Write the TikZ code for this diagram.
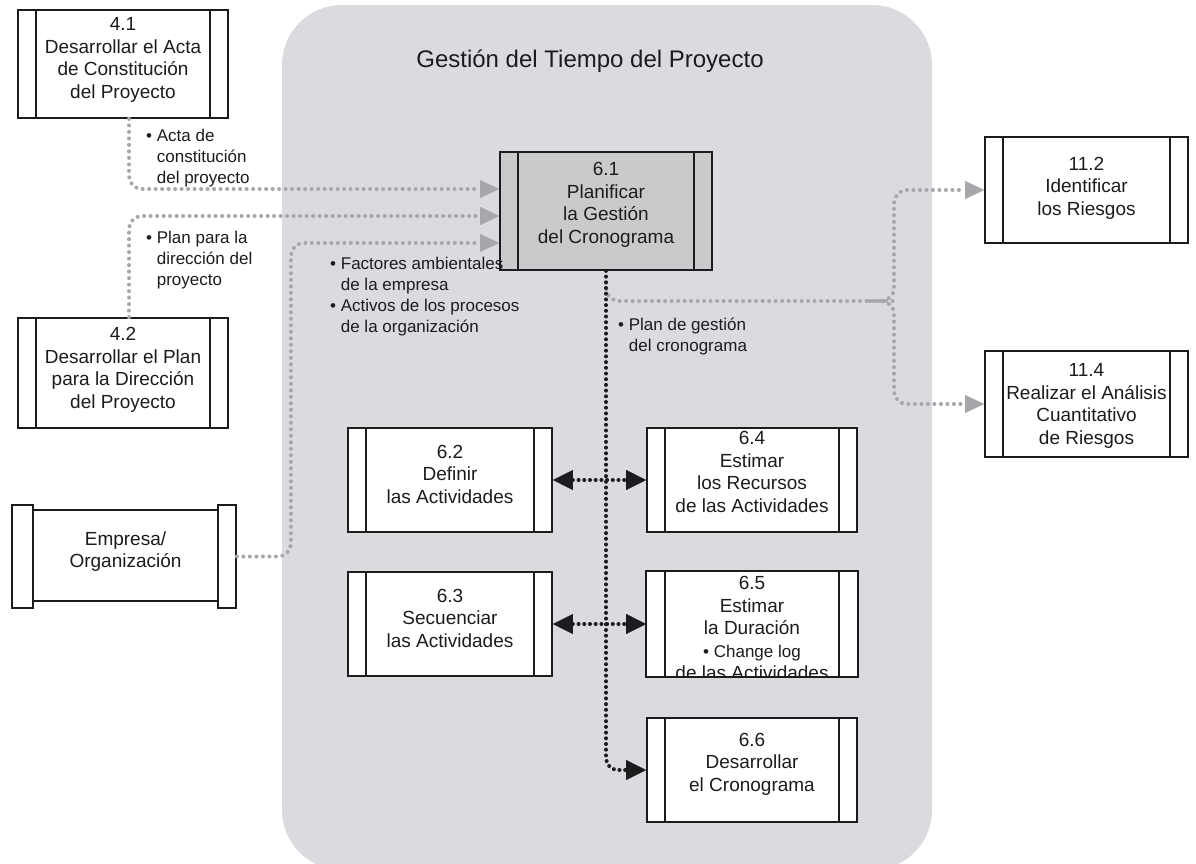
\documentclass[tikz,border=0pt]{standalone}
\usepackage{fontspec}
\setmainfont{Liberation Sans}
\usetikzlibrary{arrows.meta}

\definecolor{panel}{RGB}{218,219,222}
\definecolor{hotfill}{RGB}{201,202,204}
\definecolor{flow}{RGB}{166,167,170}
\definecolor{ink}{RGB}{28,28,30}

\newcommand\procfont{\fontsize{19}{22.5}\selectfont}
\newcommand\notefont{\fontsize{17}{21}\selectfont}
\newcommand\headfont{\fontsize{24}{28}\selectfont}
% the two vertical bars of a process box
\newcommand\sidebars[1]{%
  \draw[barline] ([xshift=19pt]#1.north west) -- ([xshift=19pt]#1.south west);
  \draw[barline] ([xshift=-19pt]#1.north east) -- ([xshift=-19pt]#1.south east);}

\tikzset{
  proc/.style={draw=ink, line width=1.8pt, fill=white, rectangle, inner sep=0pt},
  barline/.style={draw=ink, line width=1.6pt},
  ptext/.style={align=center, font=\procfont, text=ink, inner sep=0pt},
  note/.style={anchor=north west, align=left, font=\notefont, text=ink, inner sep=0pt},
  gflow/.style={draw=flow, line width=4pt, line cap=round, dash pattern=on 0pt off 6.5pt,
    rounded corners=13pt},
  kflow/.style={draw=ink, line width=4pt, line cap=round, dash pattern=on 0pt off 5.7pt,
    rounded corners=12pt},
  gtip/.style={-{Triangle[length=19pt,width=18pt,line width=0.1pt]}},
  ktip/.style={-{Triangle[length=20pt,width=20pt,line width=0.1pt]}},
  kboth/.style={{Triangle[length=20pt,width=20pt,line width=0.1pt]}-{Triangle[length=20pt,width=20pt,line width=0.1pt]}},
}

\begin{document}
\begin{tikzpicture}[x=1pt,y=-1pt]
\useasboundingbox (0,0) rectangle (1196,864);
\clip (0,0) rectangle (1196,864);
\fill[white] (0,0) rectangle (1196,864);

% knowledge-area panel
\fill[panel, rounded corners=60pt] (282,5) rectangle (932,870);
\node[font=\headfont, text=ink] (title) at (590,61) {Gestión del Tiempo del Proyecto};

% process boxes
\node[proc, minimum width=210pt, minimum height=108pt] (p41) at (123,64) {};
\node[proc, minimum width=210pt, minimum height=110pt] (p42) at (123,373) {};
\node[proc, minimum width=185pt, minimum height=91pt] (emp) at (125.5,555.5) {};
\node[proc, minimum width=21pt, minimum height=103pt] (empL) at (22.5,556.5) {};
\node[proc, minimum width=18pt, minimum height=103pt] (empR) at (227,556.5) {};
\node[proc, fill=hotfill, minimum width=212pt, minimum height=118pt] (p61) at (606,211) {};
\node[proc, minimum width=203pt, minimum height=106pt] (p112) at (1086.5,190) {};
\node[proc, minimum width=203pt, minimum height=106pt] (p114) at (1086.5,404) {};
\node[proc, minimum width=204pt, minimum height=104pt] (p62) at (450,480) {};
\node[proc, minimum width=204pt, minimum height=104pt] (p63) at (450,624) {};
\node[proc, minimum width=210pt, minimum height=104pt] (p64) at (752,480) {};
\node[proc, draw=none, minimum width=210pt, minimum height=104pt] (p65) at (752,624) {};
\node[proc, minimum width=210pt, minimum height=104pt] (p66) at (752,770) {};

% box texts
\node[ptext] (t41) at ([yshift=4pt]p41.center) {4.1\\Desarrollar el Acta\\de Constitución\\del Proyecto};
\node[ptext] (t42) at ([yshift=3pt]p42.center) {4.2\\Desarrollar el Plan\\para la Dirección\\del Proyecto};
\node[ptext] (temp) at ([yshift=4pt]emp.center) {Empresa/\\Organización};
\node[ptext] (t61) at ([yshift=6pt]p61.center) {6.1\\Planificar\\la Gestión\\del Cronograma};
\node[ptext] (t112) at ([yshift=2pt]p112.center) {11.2\\Identificar\\los Riesgos};
\node[ptext] (t114) at ([yshift=-2pt]p114.center) {11.4\\Realizar el Análisis\\Cuantitativo\\de Riesgos};
\node[ptext] (t62) at ([yshift=6pt]p62.center) {6.2\\Definir\\las Actividades};
\node[ptext] (t63) at ([yshift=6pt]p63.center) {6.3\\Secuenciar\\las Actividades};
\node[ptext] (t64) at ([yshift=8pt]p64.center) {6.4\\Estimar\\los Recursos\\de las Actividades};
\begin{scope}
  \clip (p65.north west) rectangle (p65.south east);
  \node[ptext] (t65) at ([yshift=-4pt]p65.center) {6.5\\Estimar\\la Duración\\{\notefont • Change log}\\de las Actividades};
\end{scope}
\draw[draw=ink, line width=1.8pt] (p65.north west) rectangle (p65.south east);
\node[ptext] (t66) at ([yshift=6pt]p66.center) {6.6\\Desarrollar\\el Cronograma};

\sidebars{p41}
\sidebars{p42}
\sidebars{p61}
\sidebars{p112}
\sidebars{p114}
\sidebars{p62}
\sidebars{p63}
\sidebars{p64}
\sidebars{p65}
\sidebars{p66}

% inputs to 6.1
\draw[gflow,gtip] ([xshift=6pt]p41.south) |- ([yshift=22pt]p61.west);
\draw[gflow,gtip] ([xshift=6pt]p42.north) |- ([yshift=-5pt]p61.west);
\draw[gflow,gtip] (empR.east) -- ++(54,0) |- ([yshift=-32pt]p61.west);

% outputs of 6.1 to risk processes
\coordinate (fork) at (894,301);
\draw[gflow] ([yshift=-12pt]p61.south) |- (fork);
\draw[gflow,gtip] ([xshift=-24pt]fork) -- (fork) |- (p112.west);
\draw[gflow,gtip] ([xshift=-24pt]fork) -- (fork) |- (p114.west);

% schedule management plan to the other time processes
\draw[kflow,ktip] (p61.south) |- (p66.west);
\draw[kflow,kboth] (p62.east) -- (p64.west);
\draw[kflow,kboth] (p63.east) -- (p65.west);

% flow labels
\node[note] (n41) at (146,129) {• Acta de\\\hphantom{• }constitución\\\hphantom{• }del proyecto};
\node[note] (n42) at (146,231) {• Plan para la\\\hphantom{• }dirección del\\\hphantom{• }proyecto};
\node[note] (nemp) at (330,257) {• Factores ambientales\\\hphantom{• }de la empresa\\• Activos de los procesos\\\hphantom{• }de la organización};
\node[note] (n61) at (618,318) {• Plan de gestión\\\hphantom{• }del cronograma};
\end{tikzpicture}
\end{document}
